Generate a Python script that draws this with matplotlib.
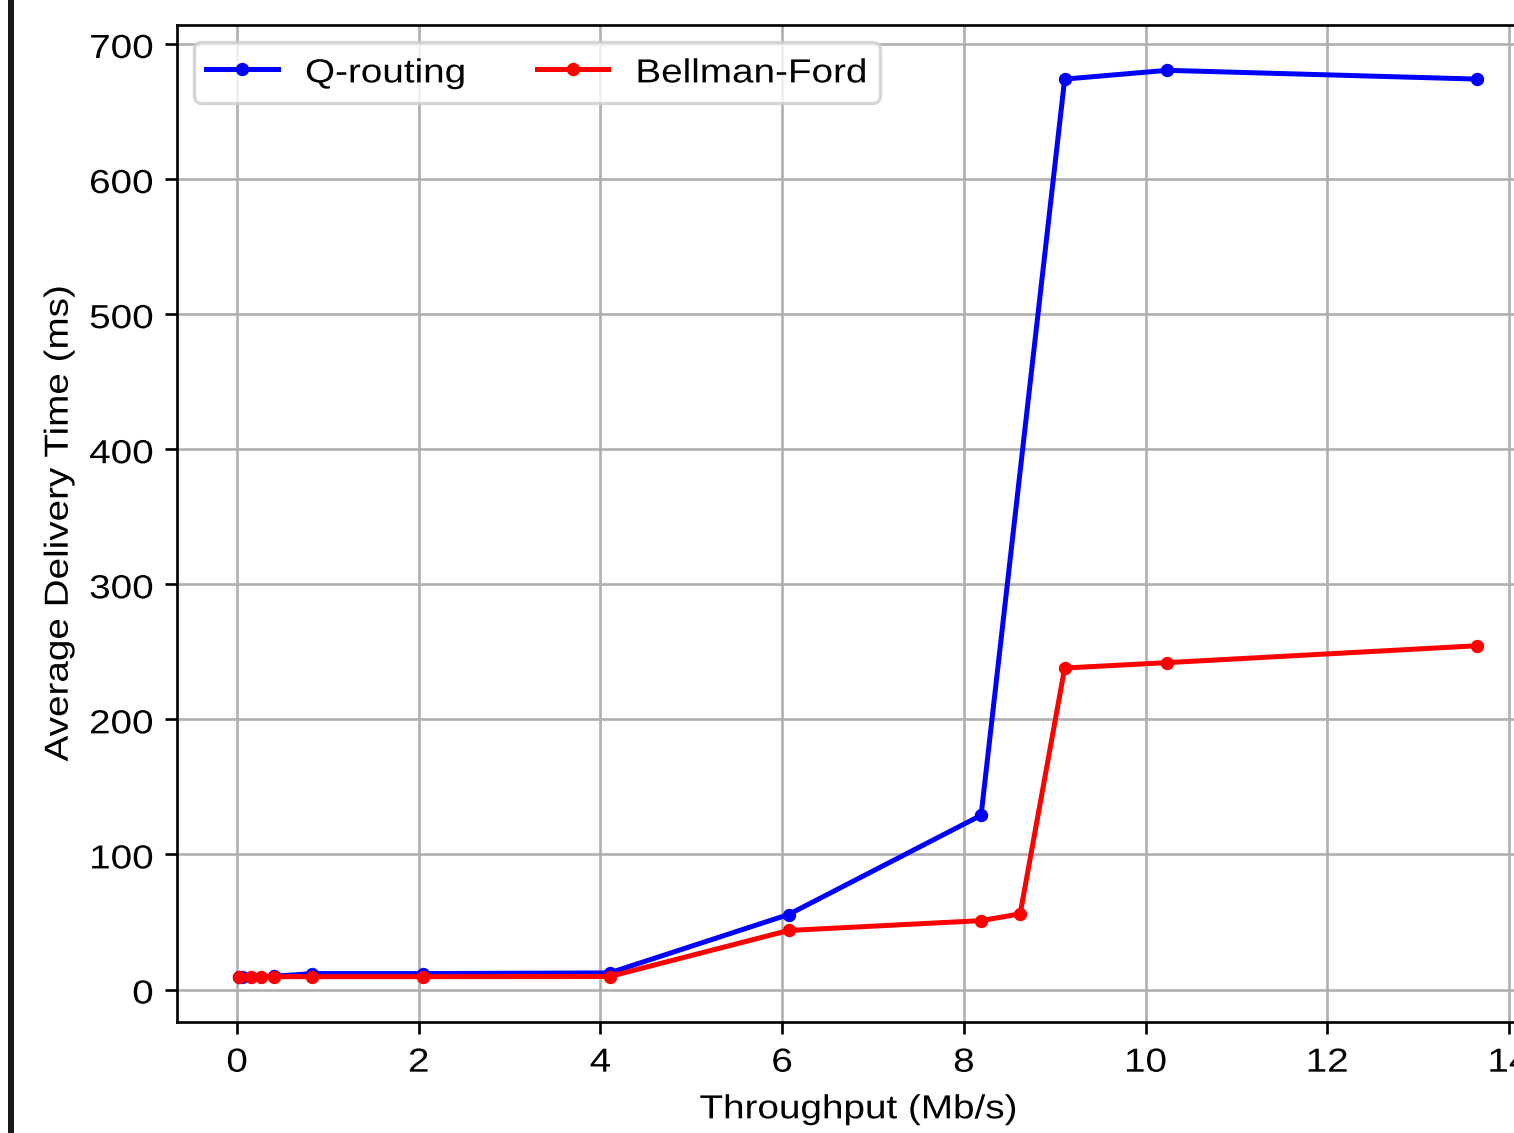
import matplotlib
matplotlib.use("Agg")
import matplotlib.pyplot as plt
from matplotlib.patches import Rectangle
from matplotlib.patheffects import AbstractPathEffect
from matplotlib.transforms import Affine2D

q_x = [0.02, 0.05, 0.41, 0.83, 2.05, 4.10, 6.07, 8.19, 9.11, 10.24, 13.65]
q_y = [9.5, 9.5, 9.8, 11.8, 11.8, 12.3, 55.5, 129.0, 674.0, 680.5, 674.0]

bf_x = [0.02, 0.15, 0.26, 0.41, 0.83, 2.05, 4.10, 6.07, 8.19, 8.62, 9.11, 10.24, 13.65]
bf_y = [9.5, 9.5, 9.5, 9.5, 9.5, 9.5, 9.6, 43.7, 51.0, 56.0, 238.0, 242.0, 254.5]

FS = 11.6          # layout size (gives the wide, tracked look of the reference)
SQ = 10.0 / FS     # glyph height brought back to a 10 pt look


class Squash(AbstractPathEffect):
    """Compress glyph height about the baseline, keeping the wider layout."""
    def __init__(self, sy):
        super().__init__()
        self.sy = sy

    def draw_path(self, renderer, gc, tpath, affine, rgbFace=None):
        renderer.draw_path(gc, tpath, Affine2D().scale(1, self.sy) + affine, rgbFace)


plt.rcParams['font.family'] = ['Liberation Sans', 'DejaVu Sans']
plt.rcParams['font.size'] = FS

fig = plt.figure(figsize=(1514/240, 1133/240), dpi=240)
ax = fig.add_axes([177/1514, 1 - 1022/1133, (1539 - 177)/1514, (1022 - 25)/1133])

ax.plot(q_x, q_y, color='blue', marker='.', label='Q-routing')
ax.plot(bf_x, bf_y, color='red', marker='.', label='Bellman-Ford')
ax.grid(True)
ax.set_xlabel('Throughput (Mb/s)', labelpad=3.2)
ax.set_ylabel('Average Delivery Time (ms)')
ax.tick_params(labelsize=FS)
ax.tick_params(axis='x', pad=3.0)
leg = ax.legend(loc='upper left', ncol=2, borderpad=0.33, handlelength=1.85,
                handletextpad=0.7, columnspacing=1.83, borderaxespad=0.43)

fig.patches.append(Rectangle((8/1514, 0), 6/1514, 1, transform=fig.transFigure,
                             facecolor='#1a1a1a', edgecolor='none'))

fig.canvas.draw()
pe = [Squash(SQ)]
texts = (ax.get_xticklabels() + ax.get_yticklabels() + leg.get_texts()
         + [ax.xaxis.label, ax.yaxis.label])
for t in texts:
    t.set_path_effects(pe)

fig.savefig('out.png', dpi=240)
